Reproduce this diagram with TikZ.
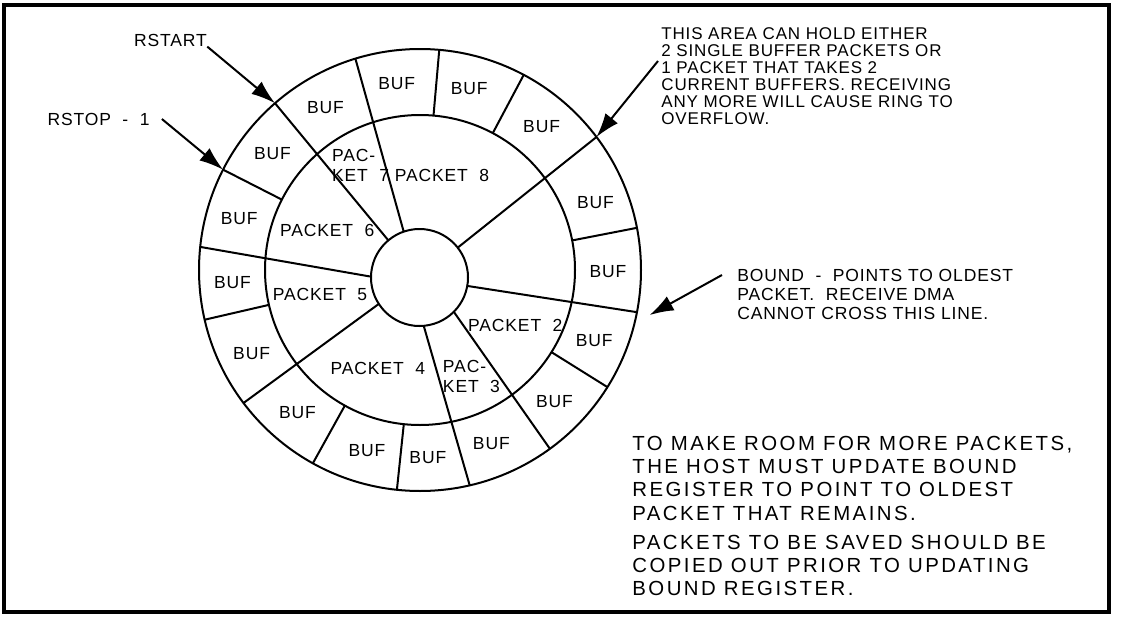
\documentclass[tikz,border=0pt]{standalone}
\usepackage{fontspec}
\setmainfont{Liberation Sans}
\newfontfamily\tagfont[LetterSpace=5]{Liberation Sans}
\newfontfamily\notefont[LetterSpace=12]{Liberation Sans}
\usetikzlibrary{arrows.meta,positioning}
\tikzset{ring/.style = {draw, circle, line width = 1pt, outer sep = 0pt, inner sep = 0pt},
         lbl/.style = {font = \tagfont\fontsize{8.75}{10}\selectfont, inner sep = 0pt, align = left},
         note/.style = {font = \tagfont\fontsize{8.5}{8.5}\selectfont, inner sep = 0pt, align = left, anchor = north west},
         hint/.style = {font = \notefont\fontsize{10.2}{11.65}\selectfont, inner sep = 0pt, align = left, anchor = north west},
         spoke/.style = {line width = 1pt},
         pointer/.style = {line width = 1pt, -{Latex[length = 12pt, width = 8pt]}},
}

\begin{document}
\begin{tikzpicture}[x = 0.5pt, y = 0.5pt]
  \useasboundingbox (0,0) rectangle (1121,618);
  \draw[line width = 1.6pt] (4,6) rectangle (1109,613);

  \node[ring, minimum size = 221pt] (rim) at (420,348) {};
  \node[ring, minimum size = 155pt] (mid) at (420,348) {};
  \node[ring, minimum size = 48.5pt] (hub) at (419.5,340.5) {};

  \foreach \a in {153.5, 85.6, 62, 11, -32.5, -96.7, 241, 193}
    \draw[spoke] (mid.\a) -- (rim.\a);
  \foreach \a/\b in {131.3/130.6, 107.7/109.7, 37.2/38.5, -11.2/-10, -54.8/-45.8, -77.4/-85.8, 217.2/213.5, 174/179.4}
    \draw[spoke] (hub.\b) -- (rim.\a);

  \foreach \a [count = \i] in {120.2, 97.1, 74.8, 49.7, 21, -0.6, -22, -44.3, -67.7, -87.6, 253.6, 229.3, 206.4, 183.9, 164.1, 141.7}
    \node[lbl] (buf\i) at ([shift = {(\a:188)}]rim.center) {BUF};

  \node[lbl] (pk8) at ([shift = {(77:97.5)}]rim.center) {PACKET\ \ 8};
  \node[lbl] (pk7) at ([shift = {(119.5:120.7)}]rim.center) {PAC-\\KET\ \ 7};
  \node[lbl] (pk6) at ([shift = {(156.7:101)}]rim.center) {PACKET\ \ 6};
  \node[lbl] (pk5) at ([shift = {(194:103)}]rim.center) {PACKET\ \ 5};
  \node[lbl] (pk4) at ([shift = {(246.8:107)}]rim.center) {PACKET\ \ 4};
  \node[lbl] (pk3) at ([shift = {(-64.3:118.7)}]rim.center) {PAC-\\KET\ \ 3};
  \node[lbl] (pk2) at ([shift = {(-30:110)}]rim.center) {PACKET\ \ 2};

  \node[lbl] (rstart) at (170.5,578) {RSTART};
  \node[lbl] (rstop) at (98.5,499) {RSTOP\ \ -\ \ 1};

  \node[note] (area) at (661,591) {THIS AREA CAN HOLD EITHER\\2 SINGLE BUFFER PACKETS OR\\1 PACKET THAT TAKES 2\\CURRENT BUFFERS. RECEIVING\\ANY MORE WILL CAUSE RING TO\\OVERFLOW.};
  \coordinate (areatail) at ([shift = {(-3,-34)}]area.north west);

  \node[note, font = \tagfont\fontsize{8.75}{9.5}\selectfont] (bound) at (737,349.5) {BOUND\ \ -\ \ POINTS TO OLDEST\\PACKET.\ \ RECEIVE DMA\\CANNOT CROSS THIS LINE.};
  \coordinate (boundtail) at ([shift = {(-15,-6.5)}]bound.north west);
  \coordinate (boundtip) at ([shift = {(-11.1:234)}]rim.center);

  \node[hint] (room) at (632,182.5) {TO MAKE ROOM FOR MORE PACKETS,\\THE HOST MUST UPDATE BOUND\\REGISTER TO POINT TO OLDEST\\PACKET THAT REMAINS.\\[3pt]PACKETS TO BE SAVED SHOULD BE\\COPIED OUT PRIOR TO UPDATING\\BOUND REGISTER.};

  \draw[pointer] (rstart.south east) -- (rim.131.3);
  \draw[pointer] ([xshift = 6]rstop.east) -- (rim.153.5);
  \draw[pointer] (areatail) -- (rim.37.2);
  \draw[pointer] (boundtail) -- (boundtip);
\end{tikzpicture}
\end{document}
